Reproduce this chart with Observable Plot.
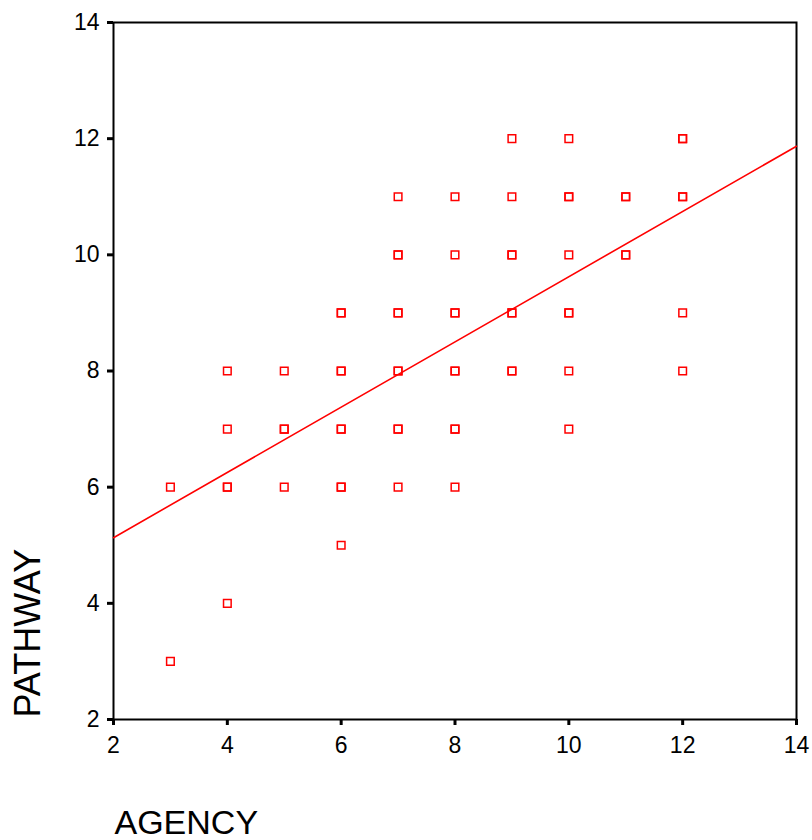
<!DOCTYPE html>
<html>
<head>
<meta charset="utf-8">
<script src="https://cdn.jsdelivr.net/npm/d3@7"></script>
<script src="https://cdn.jsdelivr.net/npm/@observablehq/plot@0.6"></script>
<style>
  html, body { margin: 0; padding: 0; background: #fff; }
  svg { display: block; }
</style>
</head>
<body>
<div id="chart"></div>
<script>
// AGENCY (x) values, one per observation (duplicates repeat)
const agency = [
  3, 3,
  4, 4, 4, 4, 4,
  5, 5, 5, 5,
  6, 6, 6, 6, 6, 6, 6, 6, 6,
  7, 7, 7, 7, 7, 7, 7, 7, 7, 7,
  8, 8, 8, 8, 8, 8, 8, 8, 8,
  9, 9, 9, 9, 9, 9, 9, 9,
  10, 10, 10, 10, 10, 10, 10, 10,
  11, 11, 11, 11,
  12, 12, 12, 12, 12, 12
];
// PATHWAY (y) values
const pathway = [
  6, 3,
  8, 7, 6, 6, 4,
  8, 7, 7, 6,
  9, 9, 8, 8, 7, 7, 6, 6, 5,
  11, 10, 10, 9, 9, 8, 8, 7, 7, 6,
  11, 10, 9, 9, 8, 8, 7, 7, 6,
  12, 11, 10, 10, 9, 9, 8, 8,
  12, 11, 11, 10, 9, 9, 8, 7,
  11, 11, 10, 10,
  12, 12, 11, 11, 9, 8
];
// Fitted line
const fitAgency = [2, 14];
const fitPathway = [5.13, 11.87];
const ticks = [2, 4, 6, 8, 10, 12, 14];

const points = agency.map((a, i) => ({agency: a, pathway: pathway[i]}));
const fit = fitAgency.map((a, i) => ({agency: a, pathway: fitPathway[i]}));

const chart = Plot.plot({
  width: 812,
  height: 840,
  marginLeft: 113,
  marginRight: 16,
  marginTop: 22,
  marginBottom: 121,
  style: {fontFamily: "'Liberation Sans', Arial, sans-serif", color: "#000", background: "#fff"},
  x: {domain: [2, 14], ticks: ticks, label: null},
  y: {domain: [2, 14], ticks: ticks, label: null},
  marks: [
    Plot.frame({stroke: "#000", strokeWidth: 2}),
    Plot.axisX({ticks: ticks, tickSize: 6, strokeWidth: 3, tickFormat: () => "", label: null}),
    Plot.axisY({ticks: ticks, tickSize: 6, strokeWidth: 3, tickFormat: () => "", label: null}),
    Plot.text(ticks, {x: d => d, frameAnchor: "bottom", text: d => String(d), lineAnchor: "top", dy: 17, fontSize: 23}),
    Plot.text(ticks, {y: d => d, frameAnchor: "left", text: d => String(d), textAnchor: "end", lineAnchor: "middle", dx: -14, fontSize: 23}),
    Plot.line(fit, {x: "agency", y: "pathway", stroke: "#ff0000", strokeWidth: 1.6}),
    Plot.dot(points, {x: "agency", y: "pathway", symbol: "square", r: 4.3, stroke: "#ff0000", strokeWidth: 1.5, fill: "none"}),
    Plot.text(["AGENCY"], {frameAnchor: "bottom-left", text: d => d, textAnchor: "start", lineAnchor: "bottom", dx: 1, dy: 114, fontSize: 34}),
    Plot.text(["PATHWAY"], {frameAnchor: "bottom-left", text: d => d, textAnchor: "start", lineAnchor: "bottom", rotate: -90, dx: -74, dy: -2, fontSize: 36})
  ]
});
document.getElementById("chart").appendChild(chart);
</script>
</body>
</html>
